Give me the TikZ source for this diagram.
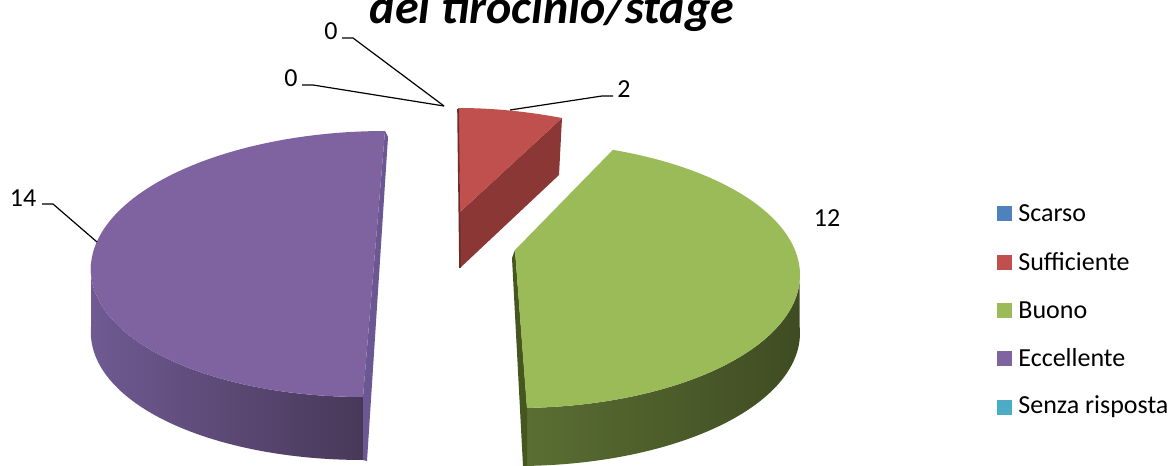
\documentclass[tikz,border=0pt]{standalone}
\usepackage{fontspec}
\setmainfont{Carlito}
\definecolor{pTop}{HTML}{7F63A1}
\definecolor{pSideL}{HTML}{6F5A92}
\definecolor{pSideR}{HTML}{483858}
\definecolor{pCut}{HTML}{6B5791}
\definecolor{gTop}{HTML}{9BBB59}
\definecolor{gSideL}{HTML}{5A6E32}
\definecolor{gSideM}{HTML}{3F4C23}
\definecolor{gCut}{HTML}{45561F}
\definecolor{rTop}{HTML}{C0504D}
\definecolor{rSide}{HTML}{8B3735}
\definecolor{rEdge}{HTML}{6E2A28}
\definecolor{cScarso}{HTML}{4F81BD}
\definecolor{cSuff}{HTML}{C0504D}
\definecolor{cBuono}{HTML}{9BBB59}
\definecolor{cEcc}{HTML}{8064A2}
\definecolor{cSenza}{HTML}{4BACC6}
\tikzset{
  lbl/.style={inner sep=0pt, font=\fontsize{13}{15}\selectfont},
  legtxt/.style={inner sep=0pt, anchor=west, font=\fontsize{13}{15}\selectfont},
  legbox/.style={minimum size=7.5pt, inner sep=0pt},
  leader/.style={draw=black, line width=0.6pt},
}
\begin{document}
\begin{tikzpicture}[x=0.5pt,y=-0.5pt]
\useasboundingbox (0,0) rectangle (1174,466);
\clip (0,0) rectangle (1174,466);
\fill[white] (0,0) rectangle (1174,466);

% title (partly cut off at top, as in the reference)
\node[anchor=base, inner sep=0pt, font=\fontsize{24}{28}\selectfont\bfseries\itshape] (title) at (552,24) {del tirocinio/stage};

% ---- purple slice (Eccellente) ----
\shade[left color=pSideL, right color=pSideR]
  plot[domain=180:90, samples=60] ({374+283*cos(\x)-11*sin(\x)},{264+133*sin(\x)})
  -- plot[domain=90:180, samples=60] ({374+283*cos(\x)-11*sin(\x)},{327+133*sin(\x)}) -- cycle;
\fill[pCut] (385,131) -- (388,137) -- (367,461) -- (363,460) -- (363,397) -- cycle;
\fill[pTop] plot[domain=90:270, samples=90] ({374+283*cos(\x)-11*sin(\x)},{264+133*sin(\x)}) -- cycle;

% ---- green slice (Buono) ----
\shade[left color=gSideL, middle color=gSideM, right color=gSideM]
  plot[domain=88:-3, samples=60] ({517+283*cos(\x)},{275+133*sin(\x)})
  -- plot[domain=-3:88, samples=60] ({517+283*cos(\x)},{333+133*sin(\x)}) -- cycle;
\fill[gCut] (515,250) -- (527,407) -- (527,466) -- (523,466) -- (512,258) -- cycle;
\fill[gTop] plot[domain=-70.2:88, samples=90] ({517+283*cos(\x)},{275+133*sin(\x)}) -- (515,250) -- cycle;

% ---- red slice (Sufficiente) ----
\fill[rSide] (460,212) -- (562,118) -- (559,175) -- (460,268) -- cycle;
\fill[rTop] (458,108) .. controls (495,108) and (530,112) .. (562,118) -- (460,212) -- cycle;
\draw[rEdge, line width=0.8pt] (458,109) -- (460,268);

% ---- data labels ----
\node[lbl] (l0a) at (331,31) {0};
\node[lbl] (l0b) at (291,78) {0};
\node[lbl] (l2) at (624,89) {2};
\node[lbl] (l14) at (23,198) {14};
\node[lbl] (l12) at (827,218) {12};

\coordinate (z0) at (444,106);
\coordinate (a1) at (342,38);
\coordinate (a2) at (353,38);
\coordinate (b1) at (302,85);
\coordinate (b2) at (313,85);
\coordinate (r0) at (510,110);
\coordinate (r1) at (602,96);
\coordinate (r2) at (613,96);
\coordinate (p0) at (97,242);
\coordinate (p1) at (42,204);
\coordinate (p2) at (53,204);

\draw[leader] (a1) -- (a2) -- (z0);
\draw[leader] (b1) -- (b2) -- (z0);
\draw[leader] (r2) -- (r1) -- (r0);
\draw[leader] (p1) -- (p2) -- (p0);

% ---- legend ----
\node[legbox, fill=cScarso] (k1) at (1004,213) {};
\node[legbox, fill=cSuff]   (k2) at (1004,262) {};
\node[legbox, fill=cBuono]  (k3) at (1004,310) {};
\node[legbox, fill=cEcc]    (k4) at (1004,358) {};
\node[legbox, fill=cSenza]  (k5) at (1004,407) {};
\node[legtxt] (t1) at (1018,213) {Scarso};
\node[legtxt] (t2) at (1018,262) {Sufficiente};
\node[legtxt] (t3) at (1018,310) {Buono};
\node[legtxt] (t4) at (1018,358) {Eccellente};
\node[legtxt] (t5) at (1018,407) {Senza risposta};
\end{tikzpicture}
\end{document}
